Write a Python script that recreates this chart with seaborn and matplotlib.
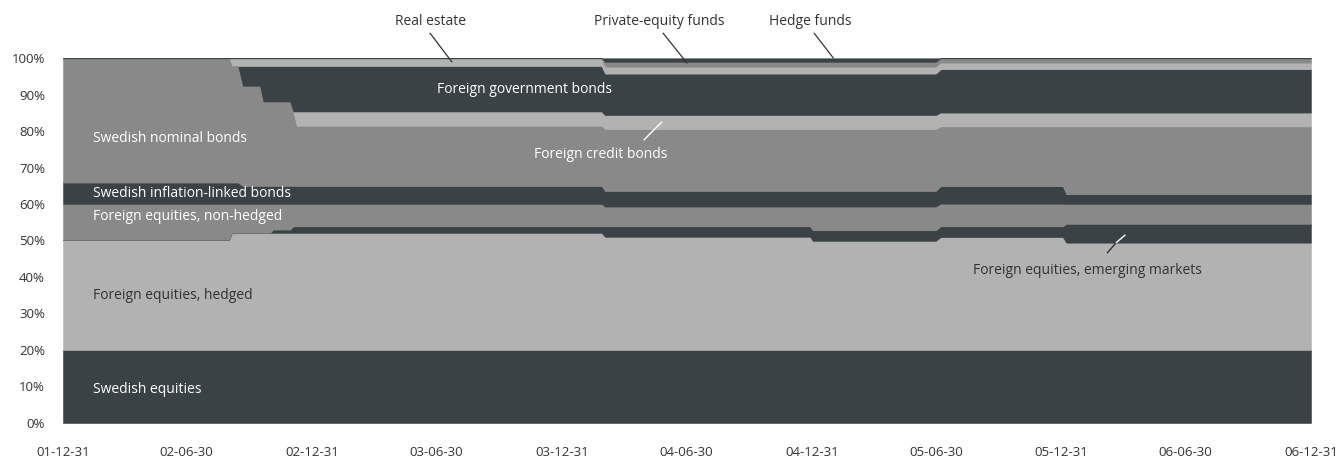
import matplotlib
matplotlib.use("Agg")
import matplotlib.pyplot as plt
import pandas as pd
import seaborn as sns

# Allocation knots (share of portfolio, %); each change is a short ramp between two knots
knot_dates = [
    "2001-12-31", "2002-08-31", "2002-09-04", "2002-09-13", "2002-09-20",
    "2002-10-15", "2002-10-20", "2002-10-30", "2002-11-03", "2002-11-28",
    "2002-12-03", "2002-12-08", "2004-02-27", "2004-03-03", "2004-12-28",
    "2005-01-01", "2005-06-30", "2005-07-07", "2006-01-02", "2006-01-07",
    "2006-12-31",
]
swedish_equities = [20.0] * 21
foreign_equities_hedged = [30.2, 30.2, 32.1, 32.1, 32.1, 32.1, 32.1, 32.1, 32.1, 32.1,
                           32.1, 32.1, 32.1, 31.0, 31.0, 29.9, 29.9, 30.9, 30.9, 29.4, 29.4]
foreign_equities_emerging = [0, 0, 0, 0, 0, 0, 0, 0, 0.9, 0.9,
                             1.8, 1.8, 1.8, 2.9, 2.9, 2.9, 2.9, 3.0, 3.0, 5.2, 5.2]
foreign_equities_nonhedged = [9.8, 9.8, 7.9, 7.9, 7.9, 7.9, 7.9, 7.9, 7.0, 7.0,
                              6.1, 6.1, 6.1, 5.4, 5.4, 6.5, 6.5, 6.2, 6.2, 5.4, 5.4]
swedish_inflation_linked = [5.9, 5.9, 5.9, 5.9, 5.0, 5.0, 5.0, 5.0, 5.0, 5.0,
                            5.0, 5.0, 5.0, 4.3, 4.3, 4.3, 4.3, 4.8, 4.8, 2.7, 2.7]
swedish_nominal = [34.1, 34.1, 32.0, 32.0, 27.4, 27.4, 23.1, 23.1, 23.1, 23.1,
                   20.4, 16.5, 16.5, 17.0, 17.0, 17.0, 17.0, 16.4, 16.4, 18.6, 18.6]
foreign_credit = [0, 0, 0, 0, 0, 0, 0, 0, 0, 0,
                  0, 3.9, 3.9, 3.8, 3.8, 3.8, 3.8, 3.8, 3.8, 3.8, 3.8]
foreign_government = [0, 0, 0, 0, 5.5, 5.5, 9.8, 9.8, 9.8, 9.8,
                      12.5, 12.5, 12.5, 11.4, 11.4, 11.4, 11.4, 11.9, 11.9, 11.9, 11.9]
real_estate = [0, 0, 2.1, 2.1, 2.1, 2.1, 2.1, 2.1, 2.1, 2.1,
               2.1, 2.1, 2.1, 1.9, 1.9, 1.9, 1.9, 1.8, 1.8, 1.8, 1.8]
private_equity = [0] * 13 + [1.3, 1.3, 1.3, 1.3, 1.2, 1.2, 1.2, 1.2]
hedge_funds = [0] * 13 + [1.0, 1.0, 1.0, 1.0, 0, 0, 0, 0]

tick_dates = ["2001-12-31", "2002-06-30", "2002-12-31", "2003-06-30", "2003-12-31",
              "2004-06-30", "2004-12-31", "2005-06-30", "2005-12-31", "2006-06-30",
              "2006-12-31"]
tick_labels = ["01-12-31", "02-06-30", "02-12-31", "03-06-30", "03-12-31", "04-06-30",
               "04-12-31", "05-06-30", "05-12-31", "06-06-30", "06-12-31"]
y_ticks = list(range(0, 101, 10))
y_labels = [f"{v}%" for v in y_ticks]

DARK = "#3a4245"
MID = "#898989"
LIGHT = "#b2b2b2"
TEXT = "#333333"

sns.set_theme(style="white")
plt.rcParams["font.family"] = ["Open Sans", "DejaVu Sans"]

dates = pd.to_datetime(knot_dates)
stack = [swedish_equities, foreign_equities_hedged, foreign_equities_emerging,
         foreign_equities_nonhedged, swedish_inflation_linked, swedish_nominal,
         foreign_credit, foreign_government, real_estate, private_equity, hedge_funds]
colors = [DARK, LIGHT, DARK, MID, DARK, MID, LIGHT, DARK, LIGHT, MID, DARK]

fig = plt.figure(figsize=(13.38, 4.59), dpi=100)
ax = fig.add_axes([0.0471, 0.0791, 0.9327, 0.7939])
polys = ax.stackplot(dates, *stack, colors=colors, linewidth=0.4)
for p, c in zip(polys, colors):
    p.set_edgecolor(c)

ax.set_xlim(pd.Timestamp(knot_dates[0]), pd.Timestamp(knot_dates[-1]))
ax.set_ylim(0, 100)
ax.set_xticks(pd.to_datetime(tick_dates))
ax.set_xticklabels(tick_labels)
ax.set_yticks(y_ticks)
ax.set_yticklabels(y_labels)
ax.tick_params(axis="both", length=0, labelsize=9.5, colors=TEXT)
ax.tick_params(axis="x", pad=17)
ax.tick_params(axis="y", pad=13)
sns.despine(ax=ax, left=True, bottom=True)
ax.grid(False)

D = pd.Timestamp
FS = 10

# Labels inside the bands
ax.text(D("2002-02-13"), 9.2, "Swedish equities", color="white", fontsize=FS, va="center")
ax.text(D("2002-02-13"), 34.8, "Foreign equities, hedged", color=TEXT, fontsize=FS, va="center")
ax.text(D("2002-02-13"), 56.7, "Foreign equities, non-hedged", color="white", fontsize=FS, va="center")
ax.text(D("2002-02-13"), 62.8, "Swedish inflation-linked bonds", color="white", fontsize=FS, va="center")
ax.text(D("2002-02-13"), 78.1, "Swedish nominal bonds", color="white", fontsize=FS, va="center")
ax.text(D("2003-07-01"), 91.3, "Foreign government bonds", color="white", fontsize=FS, va="center")

# Call-outs with leader lines
ax.text(D("2004-02-25"), 73.7, "Foreign credit bonds", color="white", fontsize=FS,
        va="center", ha="center")
ax.plot([D("2004-04-29"), D("2004-05-25")], [77.6, 82.5], color="white", lw=1)

ax.text(D("2006-02-07"), 41.9, "Foreign equities, emerging markets", color=TEXT,
        fontsize=FS, va="center", ha="center")
ax.plot([D("2006-03-08"), D("2006-03-21")], [46.6, 49.4], color=TEXT, lw=1)
ax.plot([D("2006-03-21"), D("2006-04-03")], [49.4, 51.5], color="white", lw=1)

for label, tx, x0, x1, y1 in [
    ("Real estate", "2003-06-22", "2003-06-21", "2003-07-23", 99.0),
    ("Private-equity funds", "2004-05-22", "2004-05-27", "2004-07-01", 98.7),
    ("Hedge funds", "2004-12-29", "2005-01-03", "2005-01-31", 100.1),
]:
    ax.text(D(tx), 110.0, label, color=TEXT, fontsize=FS, va="center", ha="center",
            clip_on=False)
    ax.plot([D(x0), D(x1)], [106.9, y1], color=TEXT, lw=0.9, clip_on=False)

fig.savefig("out.png", dpi=100, facecolor="white")
